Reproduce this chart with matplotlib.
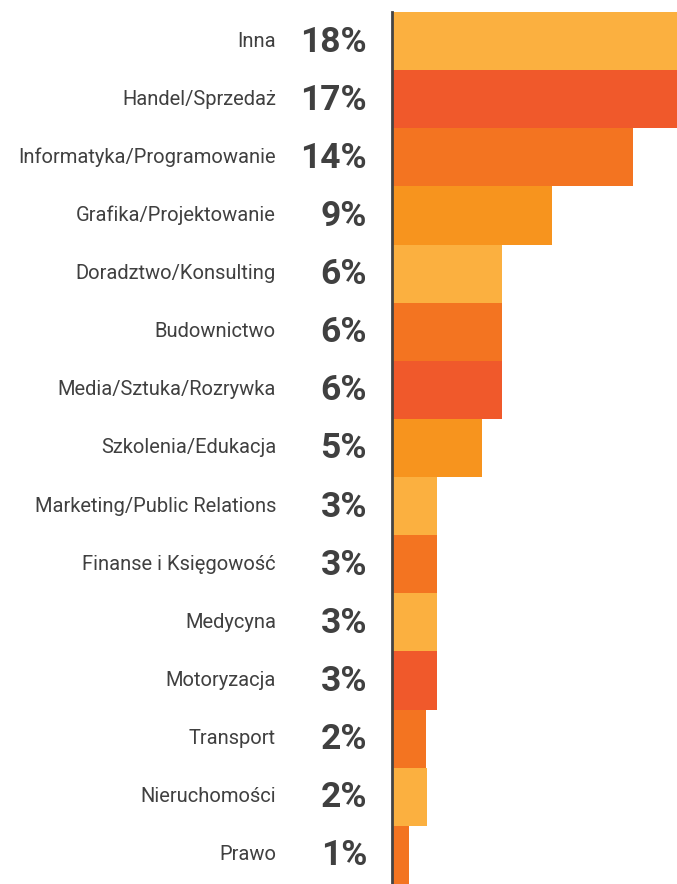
import matplotlib
matplotlib.use("Agg")
from matplotlib import pyplot as plt

categories = ["Inna", "Handel/Sprzedaż", "Informatyka/Programowanie",
              "Grafika/Projektowanie", "Doradztwo/Konsulting", "Budownictwo",
              "Media/Sztuka/Rozrywka", "Szkolenia/Edukacja",
              "Marketing/Public Relations", "Finanse i Księgowość", "Medycyna",
              "Motoryzacja", "Transport", "Nieruchomości", "Prawo"]
values = [18.0, 17.0, 13.7, 9.1, 6.2, 6.2, 6.2, 5.1, 2.5, 2.5, 2.5, 2.5, 1.9, 1.95, 0.9]
pct_labels = ["18%", "17%", "14%", "9%", "6%", "6%", "6%", "5%",
              "3%", "3%", "3%", "3%", "2%", "2%", "1%"]

LIGHT = "#FBB040"
RED = "#F0592B"
ORANGE = "#F37421"
AMBER = "#F7941E"
colors = [LIGHT, RED, ORANGE, AMBER, LIGHT, ORANGE, RED, AMBER,
          LIGHT, ORANGE, LIGHT, RED, ORANGE, LIGHT, ORANGE]

text_color = "#404040"
W, H = 677, 884

fig = plt.figure(figsize=(W / 100, H / 100), dpi=100)
ax = fig.add_axes([393 / W, 0, 1 - 393 / W, (H - 12) / H])

n = len(values)
ypos = list(range(n))
ax.barh(ypos, values, height=1.0, color=colors, linewidth=0)
ax.set_ylim(n - 0.5, -0.5)
ax.set_xlim(0, 284 / 17.5)
ax.axis("off")

# dark vertical axis line at the bar origin
fig.add_artist(plt.Line2D([391.5 / W, 391.5 / W], [0, (H - 12) / H],
                          color="#444444", linewidth=2.0, transform=fig.transFigure))

for i in range(n):
    ax.annotate(categories[i], xy=(0, ypos[i]), xycoords="data",
                xytext=(-117, 0), textcoords="offset pixels",
                ha="right", va="center", fontsize=14.5, family="Roboto",
                color=text_color)
    ax.annotate(pct_labels[i], xy=(0, ypos[i]), xycoords="data",
                xytext=(-26, -1), textcoords="offset pixels",
                ha="right", va="center", fontsize=25.5, family="Roboto",
                fontweight="bold", color=text_color)

fig.savefig("out.png", dpi=100)
